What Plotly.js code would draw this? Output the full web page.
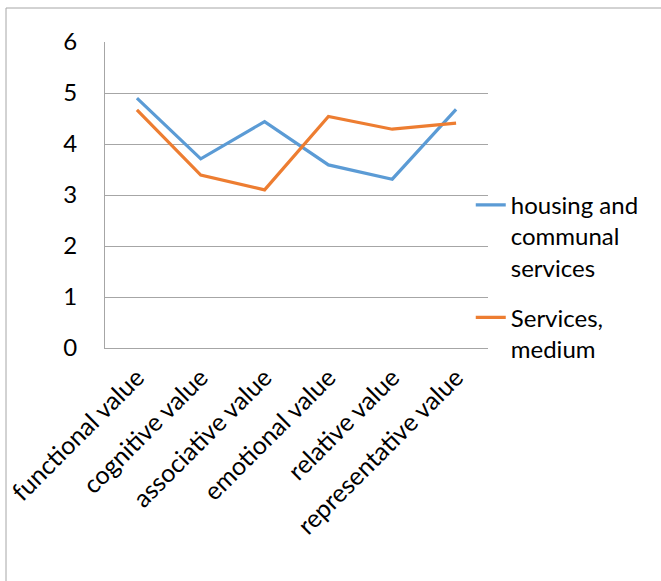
<!DOCTYPE html>
<html>
<head>
<meta charset="utf-8">
<script src="https://cdn.plot.ly/plotly-3.0.1.min.js"></script>
<style>html,body{margin:0;padding:0;background:#fff;}#chart{width:661px;height:581px;}</style>
</head>
<body>
<div id="chart"></div>
<script>
const categories = ["functional value", "cognitive value", "associative value", "emotional value", "relative value", "representative value"];
const housingName = "housing and<br>communal<br>services";
const housingValues = [4.90, 3.71, 4.44, 3.59, 3.31, 4.68];
const servicesName = "Services,<br>medium";
const servicesValues = [4.67, 3.39, 3.10, 4.54, 4.29, 4.41];
const yTicks = [0, 1, 2, 3, 4, 5, 6];

const FONT = "Lato, 'Open Sans', sans-serif";
const traces = [
  {x: categories, y: housingValues, name: housingName, type: "scatter", mode: "lines",
   line: {color: "#5B9BD5", width: 3.2}, legendgroup: "a"},
  {x: categories, y: servicesValues, name: servicesName, type: "scatter", mode: "lines",
   line: {color: "#ED7D31", width: 3.2}, legendgroup: "b"}
];
const layout = {
  width: 661, height: 581,
  margin: {l: 105, r: 173, t: 42, b: 233},
  paper_bgcolor: "#fff", plot_bgcolor: "#fff",
  font: {family: FONT, size: 24, color: "#000"},
  showlegend: true,
  legend: {x: 0.955, xanchor: "left", y: 0.54, yanchor: "top", valign: "top",
           tracegroupgap: 16, font: {family: FONT, size: 24, color: "#000"},
           bgcolor: "rgba(0,0,0,0)"},
  xaxis: {type: "category", range: [-0.5, categories.length - 0.5], tickangle: -45,
          showgrid: false, zeroline: false,
          showline: true, linecolor: "#A6A6A6", linewidth: 1, ticks: "",
          ticklabelstandoff: 4,
          tickfont: {family: FONT, size: 25}, fixedrange: true},
  yaxis: {range: [0, 6], tickvals: yTicks, ticktext: yTicks.map(String), showgrid: true,
          gridcolor: "#A6A6A6", gridwidth: 1, zeroline: false, showline: true,
          linecolor: "#A6A6A6", linewidth: 1, ticks: "", ticklabelstandoff: 22,
          tickfont: {family: FONT, size: 24}, fixedrange: true},
  shapes: [
    {type: "line", xref: "paper", yref: "paper", x0: (6-105)/383, x1: (661-105)/383,
     y0: (348-8)/306, y1: (348-8)/306, line: {color: "#A6A6A6", width: 1}},
    {type: "line", xref: "paper", yref: "paper", x0: (6-105)/383, x1: (6-105)/383,
     y0: (348-8)/306, y1: (348-581)/306, line: {color: "#A6A6A6", width: 1}}
  ]
};
Plotly.newPlot("chart", traces, layout, {displayModeBar: false, staticPlot: true});
</script>
</body>
</html>
